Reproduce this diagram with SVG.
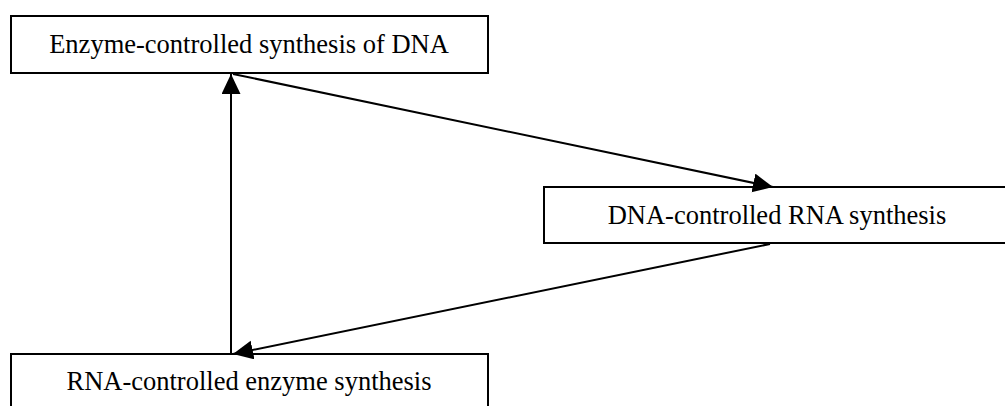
<svg xmlns="http://www.w3.org/2000/svg" width="1005" height="406" viewBox="0 0 1005 406">
  <style>
    .box { fill: #ffffff; stroke: #000000; stroke-width: 2; }
    .lbl { font-family: "Liberation Serif", "Times New Roman", serif; font-size: 26.5px; fill: #000000; text-anchor: middle; }
    .conn { stroke: #000000; stroke-width: 2; fill: none; marker-end: url(#arrow); }
  </style>
  <defs>
    <marker id="arrow" markerUnits="userSpaceOnUse" markerWidth="21" markerHeight="20" refX="20" refY="9.5" orient="auto">
      <path d="M0,0 L20,9.5 L0,19 Z" fill="#000000"/>
    </marker>
  </defs>
  <rect width="1005" height="406" fill="#ffffff"/>
  <g id="node-dna">
    <rect class="box" x="11" y="16" width="477" height="57"/>
    <text class="lbl" x="249" y="53">Enzyme-controlled synthesis of DNA</text>
  </g>
  <g id="node-rna">
    <rect class="box" x="544" y="187" width="470" height="56"/>
    <text class="lbl" x="777" y="224">DNA-controlled RNA synthesis</text>
  </g>
  <g id="node-enzyme">
    <rect class="box" x="11" y="354" width="477" height="57"/>
    <text class="lbl" x="249" y="390">RNA-controlled enzyme synthesis</text>
  </g>
  <g id="connectors">
    <line class="conn" x1="233" y1="74" x2="773" y2="187"/>
    <line class="conn" x1="770" y1="244" x2="233" y2="354"/>
    <line class="conn" x1="231" y1="353" x2="231" y2="74"/>
  </g>
</svg>
